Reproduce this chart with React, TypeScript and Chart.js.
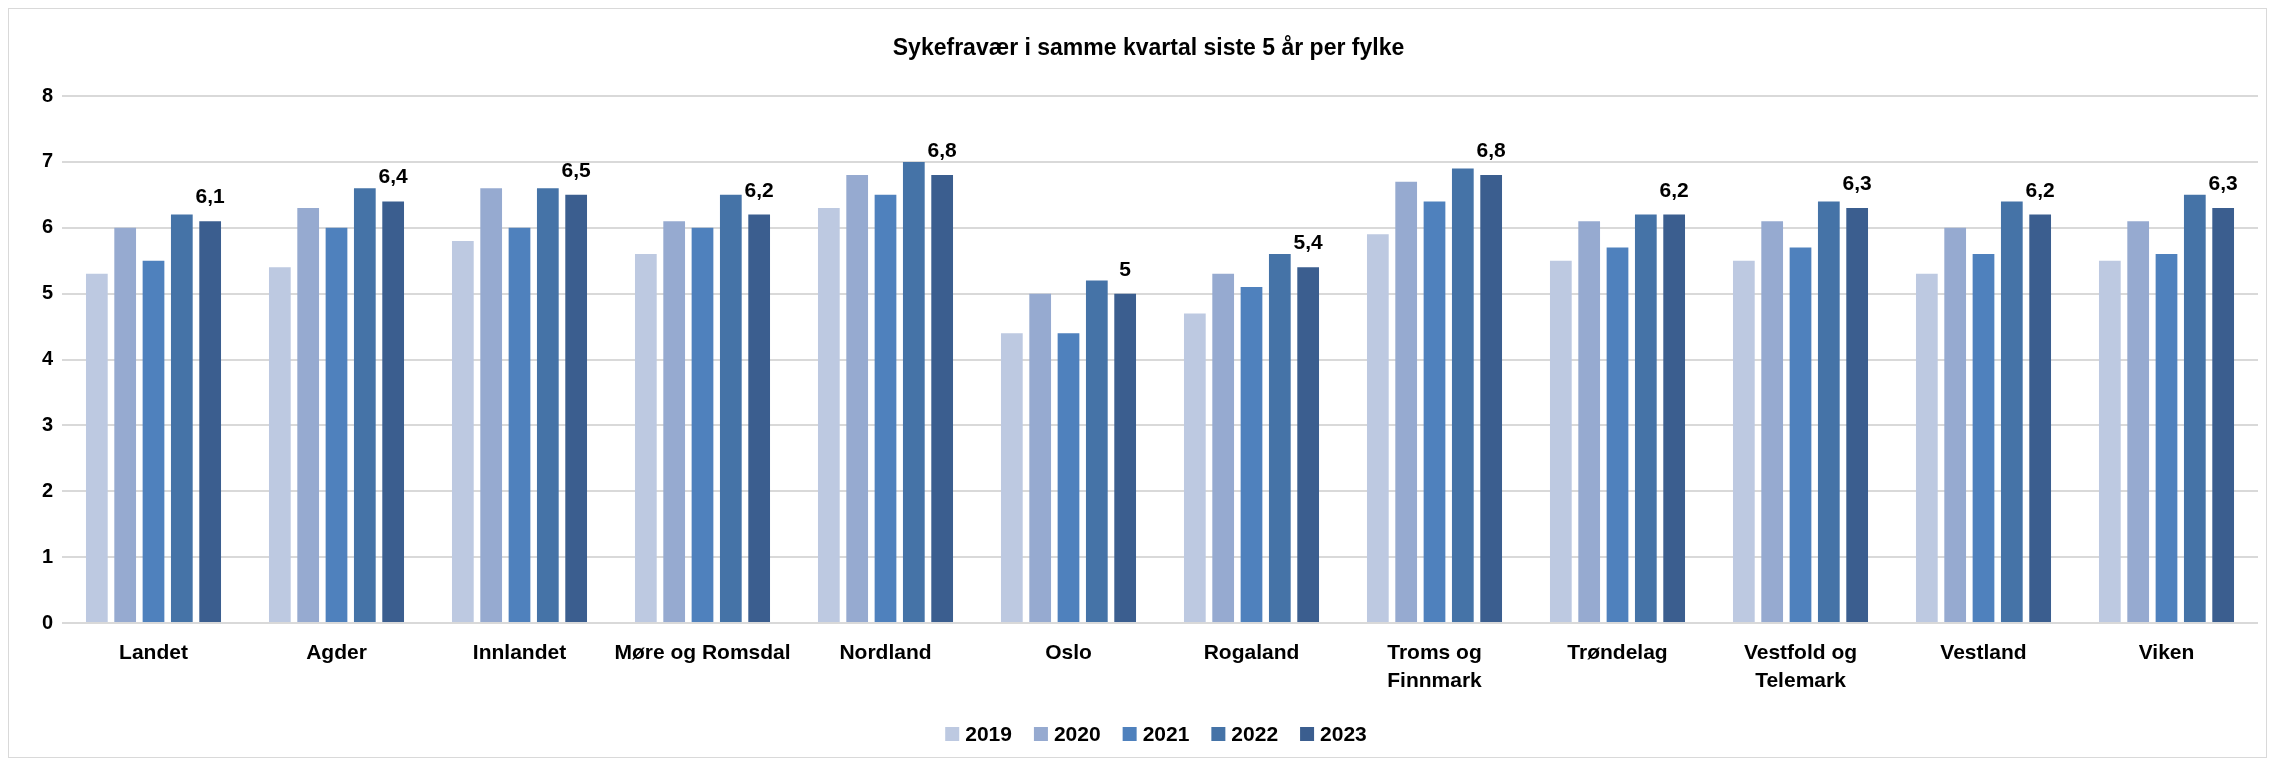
import { useEffect, useRef } from "react";
import { Chart, registerables } from "chart.js";

Chart.register(...registerables);

const titleText = "Sykefravær i samme kvartal siste 5 år per fylke";
const categories: (string | string[])[] = [
  "Landet",
  "Agder",
  "Innlandet",
  "Møre og Romsdal",
  "Nordland",
  "Oslo",
  "Rogaland",
  ["Troms og", "Finnmark"],
  "Trøndelag",
  ["Vestfold og", "Telemark"],
  "Vestland",
  "Viken",
];
const years = ["2019", "2020", "2021", "2022", "2023"];
const values2019 = [5.3, 5.4, 5.8, 5.6, 6.3, 4.4, 4.7, 5.9, 5.5, 5.5, 5.3, 5.5];
const values2020 = [6.0, 6.3, 6.6, 6.1, 6.8, 5.0, 5.3, 6.7, 6.1, 6.1, 6.0, 6.1];
const values2021 = [5.5, 6.0, 6.0, 6.0, 6.5, 4.4, 5.1, 6.4, 5.7, 5.7, 5.6, 5.6];
const values2022 = [6.2, 6.6, 6.6, 6.5, 7.0, 5.2, 5.6, 6.9, 6.2, 6.4, 6.4, 6.5];
const values2023 = [6.1, 6.4, 6.5, 6.2, 6.8, 5.0, 5.4, 6.8, 6.2, 6.3, 6.2, 6.3];
const seriesValues = [values2019, values2020, values2021, values2022, values2023];
const seriesColors = ["#BDC9E1", "#96AAD0", "#4F81BD", "#4573A7", "#3B5E8F"];
const yTicks = [0, 1, 2, 3, 4, 5, 6, 7, 8];

const FONT = "'Liberation Sans', Arial, sans-serif";

const titlePlugin = {
  id: "customTitle",
  afterDraw(chart: any) {
    const ctx = chart.ctx;
    ctx.save();
    ctx.font = `bold 23px ${FONT}`;
    ctx.fillStyle = "#000";
    ctx.textAlign = "center";
    ctx.textBaseline = "middle";
    ctx.fillText(titleText, chart.width / 2 + 11, 40);
    ctx.restore();
  },
};

const dataLabelPlugin = {
  id: "dataLabels2023",
  afterDatasetsDraw(chart: any) {
    const ctx = chart.ctx;
    const idx = chart.data.datasets.length - 1;
    const meta = chart.getDatasetMeta(idx);
    const data = chart.data.datasets[idx].data as number[];
    ctx.save();
    ctx.font = `bold 21px ${FONT}`;
    ctx.fillStyle = "#000";
    ctx.textAlign = "center";
    ctx.textBaseline = "alphabetic";
    meta.data.forEach((bar: any, i: number) => {
      const txt = String(data[i]).replace(".", ",");
      ctx.fillText(txt, bar.x, bar.y - 18);
    });
    ctx.restore();
  },
};

const legendPlugin = {
  id: "customLegend",
  afterDraw(chart: any) {
    const ctx = chart.ctx;
    const ds = chart.data.datasets;
    ctx.save();
    ctx.font = `bold 21px ${FONT}`;
    const box = 14;
    const gap = 6;
    const spacing = 22;
    const widths = ds.map((d: any) => box + gap + ctx.measureText(d.label).width);
    const total = widths.reduce((a: number, b: number) => a + b, 0) + spacing * (ds.length - 1);
    let x = (chart.chartArea.left + chart.chartArea.right) / 2 - total / 2 - 4;
    const y = chart.height - 23;
    ctx.textBaseline = "middle";
    ctx.textAlign = "left";
    ds.forEach((d: any, i: number) => {
      ctx.fillStyle = d.backgroundColor;
      ctx.fillRect(x, y - box / 2, box, box);
      ctx.fillStyle = "#000";
      ctx.fillText(d.label, x + box + gap, y + 1);
      x += widths[i] + spacing;
    });
    ctx.restore();
  },
};

export default function App() {
  const ref = useRef<HTMLCanvasElement | null>(null);

  useEffect(() => {
    if (!ref.current) return;
    const chart = new Chart(ref.current, {
      type: "bar",
      data: {
        labels: categories as any,
        datasets: years.map((y, i) => ({
          label: y,
          data: seriesValues[i],
          backgroundColor: seriesColors[i],
          borderWidth: 0,
          barPercentage: 0.767,
          categoryPercentage: 0.774,
        })),
      },
      options: {
        animation: false,
        responsive: false,
        devicePixelRatio: 1,
        layout: { padding: { left: 0, right: 8, top: 87, bottom: 60 } },
        plugins: {
          title: { display: false },
          legend: { display: false },
          tooltip: { enabled: false },
        },
        scales: {
          x: {
            grid: { display: false },
            border: { display: false },
            ticks: {
              color: "#000",
              font: { family: FONT, size: 21, weight: "bold", lineHeight: 1.3 },
              padding: 9,
              maxRotation: 0,
              autoSkip: false,
            },
            afterFit: (s: any) => {
              s.height = 74;
            },
          },
          y: {
            min: 0,
            max: 8,
            afterBuildTicks: (s: any) => {
              s.ticks = yTicks.map((v) => ({ value: v }));
            },
            ticks: {
              color: "#000",
              font: { family: FONT, size: 20, weight: "bold" },
              padding: 9,
            },
            grid: { color: "#D9D9D9", lineWidth: 2, drawTicks: false },
            border: { display: false },
            afterFit: (s: any) => {
              s.width = 53;
            },
          },
        },
      },
      plugins: [titlePlugin, dataLabelPlugin, legendPlugin],
    });
    return () => chart.destroy();
  }, []);

  return (
    <div
      style={{
        border: "1px solid #D9D9D9",
        width: 2259,
        height: 750,
        boxSizing: "border-box",
        background: "#fff",
      }}
    >
      <canvas ref={ref} width={2257} height={748} style={{ display: "block" }} />
    </div>
  );
}
